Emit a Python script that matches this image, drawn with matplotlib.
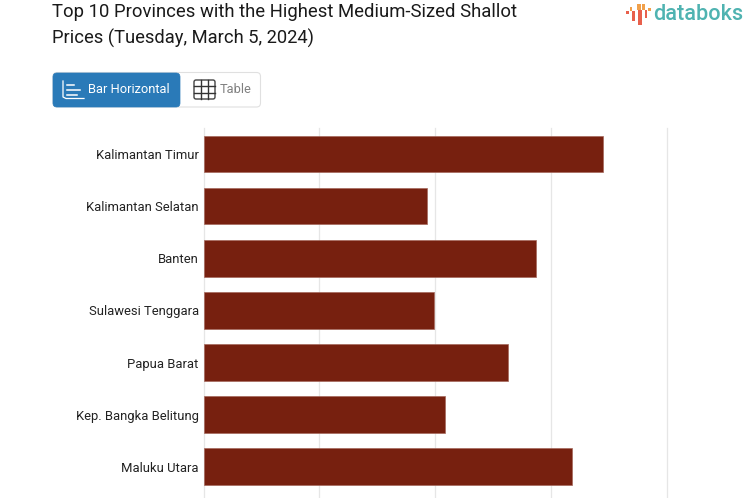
import matplotlib
matplotlib.use("Agg")
import matplotlib.pyplot as plt
from matplotlib.patches import FancyBboxPatch, Rectangle

plt.rcParams["font.family"] = ["Roboto", "DejaVu Sans"]

provinces = [
    "Kalimantan Timur",
    "Kalimantan Selatan",
    "Banten",
    "Sulawesi Tenggara",
    "Papua Barat",
    "Kep. Bangka Belitung",
    "Maluku Utara",
]
prices = [51800, 29000, 43100, 29900, 39500, 31300, 47800]
grid_ticks = [0, 15000, 30000, 45000, 60000]

W, H = 753, 498
fig = plt.figure(figsize=(W / 100, H / 100), dpi=100, facecolor="white")

# main chart, runs off the bottom of the picture
ax = fig.add_axes([203.5 / W, 0, (667 - 204) / W, (H - 128) / H])
ax.barh(range(len(provinces)), prices, height=0.7, color="#77200f",
        edgecolor="#a5685c", linewidth=0.5, zorder=3)
ax.set_xlim(0, 60000)
ax.set_ylim(6.6, -0.5)
ax.set_xticks(grid_ticks)
ax.tick_params(axis="x", length=0, labelbottom=False)
ax.set_yticks(range(len(provinces)))
ax.set_yticklabels(provinces, fontsize=9.4, color="#222222")
ax.tick_params(axis="y", length=0, pad=3.5)
ax.grid(axis="x", color="#e6e6e6", linewidth=0.9, zorder=0, clip_on=False)
ax.set_axisbelow(True)
for s in ax.spines.values():
    s.set_visible(False)

# overlay in pixel coordinates for title, buttons and logo
ov = fig.add_axes([0, 0, 1, 1], zorder=5)
ov.set_xlim(0, W)
ov.set_ylim(H, 0)
ov.axis("off")

ov.text(52, 11.5, "Top 10 Provinces with the Highest Medium-Sized Shallot",
        fontsize=13.32, color="#1a1a1a", va="center")
ov.text(52, 38.5, "Prices (Tuesday, March 5, 2024)",
        fontsize=13.25, color="#1a1a1a", va="center")

# toggle buttons
ov.add_patch(FancyBboxPatch((53, 72.5), 207.5, 34.5, boxstyle="round,pad=0,rounding_size=4",
                            fc="white", ec="#e0e0e0", lw=0.8))
ov.add_patch(FancyBboxPatch((53, 73), 127, 34, boxstyle="round,pad=0,rounding_size=4",
                            fc="#2a7ab8", ec="#2a7ab8", lw=0.5))
ov.text(88.5, 89.5, "Bar Horizontal", fontsize=9.3, color="white", va="center")
ov.text(220, 89.5, "Table", fontsize=9.3, color="#808080", va="center")

# bar icon
ov.plot([63, 63, 66, 84], [81, 97, 98.5, 98.5], color="white", lw=0.9)
for y, x2 in [(85, 74), (90, 80), (94.5, 77)]:
    ov.plot([67, x2], [y, y], color="white", lw=1.1)

# table icon
ov.add_patch(FancyBboxPatch((194, 80), 21, 19, boxstyle="round,pad=0,rounding_size=2",
                            fc="white", ec="#444444", lw=1))
for x in [201, 208]:
    ov.plot([x, x], [80, 99], color="#333333", lw=1)
for y in [86, 92.5]:
    ov.plot([194, 215], [y, y], color="#333333", lw=1)

# logo
for x0, x1, y0, y1, c in [
    (626, 629, 11, 13.5, "#e8604c"),
    (630, 632.5, 7, 11, "#f0a04b"),
    (632.5, 635, 11, 21, "#e8604c"),
    (637.5, 641.5, 3.5, 10, "#f0a04b"),
    (638, 642, 10, 25, "#e8604c"),
    (642.5, 645, 4, 10, "#f0a04b"),
    (645, 647.5, 10, 18, "#e8604c"),
    (648.5, 651, 8, 11, "#f0a04b"),
]:
    ov.add_patch(Rectangle((x0, y0), x1 - x0, y1 - y0, fc=c, ec="none"))
ov.text(653.5, 14.5, "databoks", fontsize=15.6, color="#4fb3b1", va="center", fontweight="medium")

fig.savefig("out.png", dpi=100, facecolor="white")
